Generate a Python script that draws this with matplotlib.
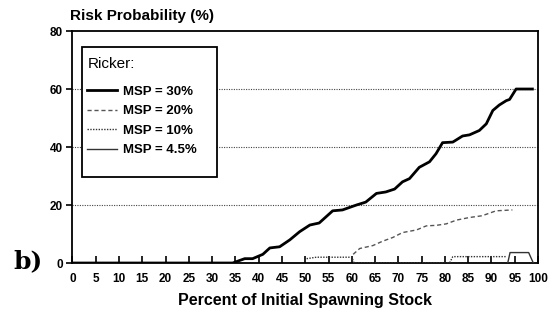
import matplotlib
matplotlib.use("Agg")
import matplotlib.pyplot as plt
from matplotlib.patches import Rectangle

# MSP = 30% (solid, heavy)
x_30 = [0, 34.4, 37, 38.7, 40.9, 42.4, 44.5, 46.7, 48.8, 51, 53, 55.9, 58, 61, 63, 65.3,
        67.3, 69.2, 70.9, 72.4, 74.5, 76.7, 78.1, 79.5, 81.7, 83.8, 85.3, 87.4, 88.9,
        90.3, 91.7, 93.2, 93.9, 95.3, 98.8]
y_30 = [0, 0, 1.5, 1.5, 3, 5.2, 5.6, 8, 10.8, 13.1, 13.8, 18, 18.3, 20, 21, 24,
        24.5, 25.5, 28, 29.1, 33, 34.9, 37.7, 41.5, 41.7, 43.8, 44.2, 45.7, 48,
        52.6, 54.5, 56, 56.4, 60, 60]

# MSP = 20% (dashed)
x_20 = [60.3, 61.7, 64.5, 66.6, 68.8, 70.9, 73.9, 76, 78.2, 80.3, 82.5, 85.3, 88, 91, 94.5]
y_20 = [3, 5, 6, 7.5, 8.8, 10.5, 11.4, 12.8, 13, 13.5, 14.8, 15.7, 16.3, 18, 18.3]

# MSP = 10% (dotted)
x_10 = [50.3, 52.4, 60, 60.5, 81, 81.7, 93.2]
y_10 = [1.5, 2, 2, 0, 0, 2.2, 2.2]

# MSP = 4.5% (solid)
x_45 = [93.5, 94, 98, 99]
y_45 = [0, 3.6, 3.6, 0]

x_ticks = list(range(0, 101, 5))
y_ticks = [0, 20, 40, 60, 80]

plt.rcParams["font.family"] = ["Liberation Sans", "DejaVu Sans"]

fig = plt.figure(figsize=(5.52, 3.13), dpi=100)
ax = fig.add_axes([0.1313, 0.1597, 0.8433, 0.7412])

for yv in [20, 40, 60]:
    ax.axhline(yv, color="#444444", lw=0.8, ls=(0, (1, 1.2)), zorder=1)

ax.plot(x_30, y_30, color="black", lw=2.0, label="MSP = 30%", zorder=4)
ax.plot(x_20, y_20, color="#555555", lw=1.0, ls=(0, (3, 2)), label="MSP = 20%", zorder=3)
ax.plot(x_10, y_10, color="#333333", lw=1.0, ls=(0, (1, 1)), label="MSP = 10%", zorder=3)
ax.plot(x_45, y_45, color="#333333", lw=1.0, label="MSP = 4.5%", zorder=3)

ax.set_xlim(0, 100)
ax.set_ylim(0, 80)
ax.set_xticks(x_ticks)
ax.set_xticklabels([str(t) for t in x_ticks], fontsize=8.5, fontweight="bold")
ax.set_yticks(y_ticks)
ax.set_yticklabels([str(t) for t in y_ticks], fontsize=8.5, fontweight="bold")
ax.tick_params(axis="x", direction="in", length=5, width=1.2, pad=7)
ax.tick_params(axis="y", direction="out", length=4, width=1.2, pad=3)
for sp in ax.spines.values():
    sp.set_linewidth(1.3)

ax.set_xlabel("Percent of Initial Spawning Stock", fontsize=11.5, fontweight="bold", labelpad=6)
fig.text(0.127, 0.925, "Risk Probability (%)", fontsize=11, fontweight="bold", ha="left", va="bottom")
fig.text(0.025, 0.165, "b)", fontsize=18, fontweight="bold", family="DejaVu Serif", ha="left", va="center")

# legend box
ax.add_patch(Rectangle((0.020, 0.371), 0.29, 0.56, transform=ax.transAxes,
                       fill=True, facecolor="white", edgecolor="black", lw=1.3, zorder=5))
ax.text(0.033, 0.858, "Ricker:", transform=ax.transAxes, fontsize=11,
        ha="left", va="center", zorder=6)
leg = ax.legend(loc="upper left", bbox_to_anchor=(0.031, 0.765),
                fontsize=9.5, frameon=False,
                handlelength=2.3, handletextpad=0.4, labelspacing=0.55,
                borderpad=0, borderaxespad=0)
leg.set_zorder(6)
for t in leg.get_texts():
    t.set_fontweight("bold")

fig.savefig("out.png", dpi=100)
